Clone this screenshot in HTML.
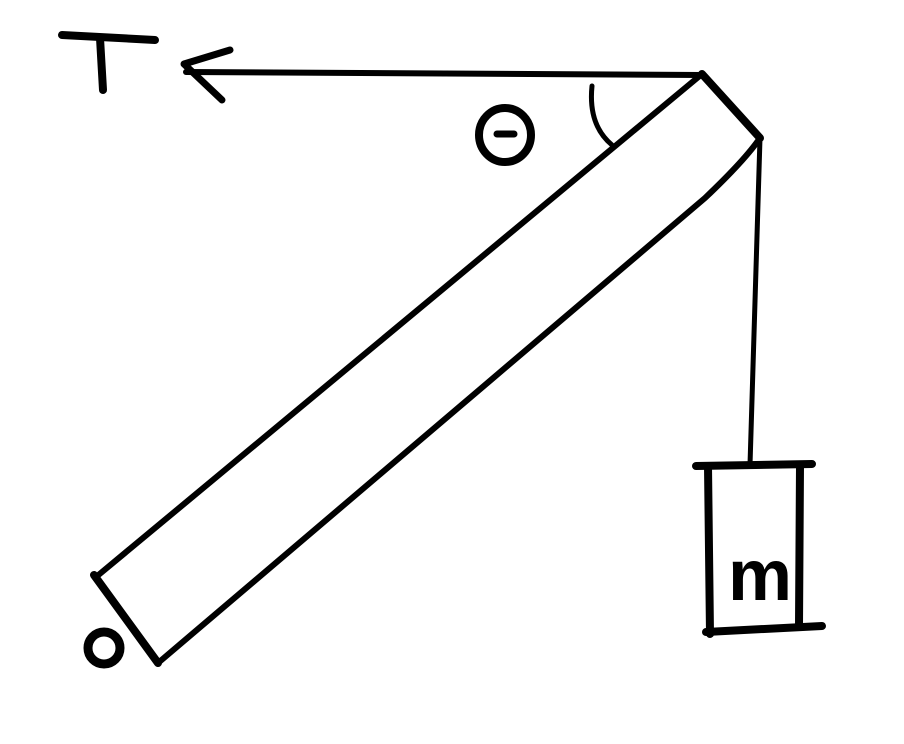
<!DOCTYPE html>
<html><head><meta charset="utf-8"><style>
html,body{margin:0;padding:0;background:#fff;}
svg{display:block;}
text{font-family:"Liberation Sans",sans-serif;fill:#000;}
</style></head><body>
<svg width="904" height="744" viewBox="0 0 904 744">
<g stroke="#000" fill="none" stroke-linecap="round" stroke-linejoin="round">
  <g stroke-width="8">
    <path d="M62 35 L155 40"/>
    <path d="M100 38 L103 90"/>
  </g>
  <g stroke-width="6">
    <path d="M186 72 L702 75"/>
    <path d="M230 50 L184 64 L222 100" stroke-width="7"/>
  </g>
  <g stroke-width="8">
    <ellipse cx="505" cy="135" rx="26" ry="27"/>
    <path d="M497 134 L514 134" stroke-width="7"/>
  </g>
  <path d="M592 86 Q588 125 612 145" stroke-width="5"/>
  <g stroke-width="6">
    <path d="M702 74 L96 577"/>
    <path d="M760 138 Q745 160 705 198 L158 663"/>
    <path d="M702 74 L760 138" stroke-width="8"/>
    <path d="M94 575 L158 663" stroke-width="8"/>
  </g>
  <circle cx="104" cy="648" r="16" stroke-width="9"/>
  <path d="M760 138 L750 465" stroke-width="5"/>
  <g stroke-width="8">
    <path d="M696 466 L812 464"/>
    <path d="M708 466 L710 634"/>
    <path d="M800 466 L799 626"/>
    <path d="M706 632 L822 626"/>
  </g>
</g>
<text x="760" y="600" font-size="72" font-weight="bold" text-anchor="middle">m</text>
</svg>
</body></html>
